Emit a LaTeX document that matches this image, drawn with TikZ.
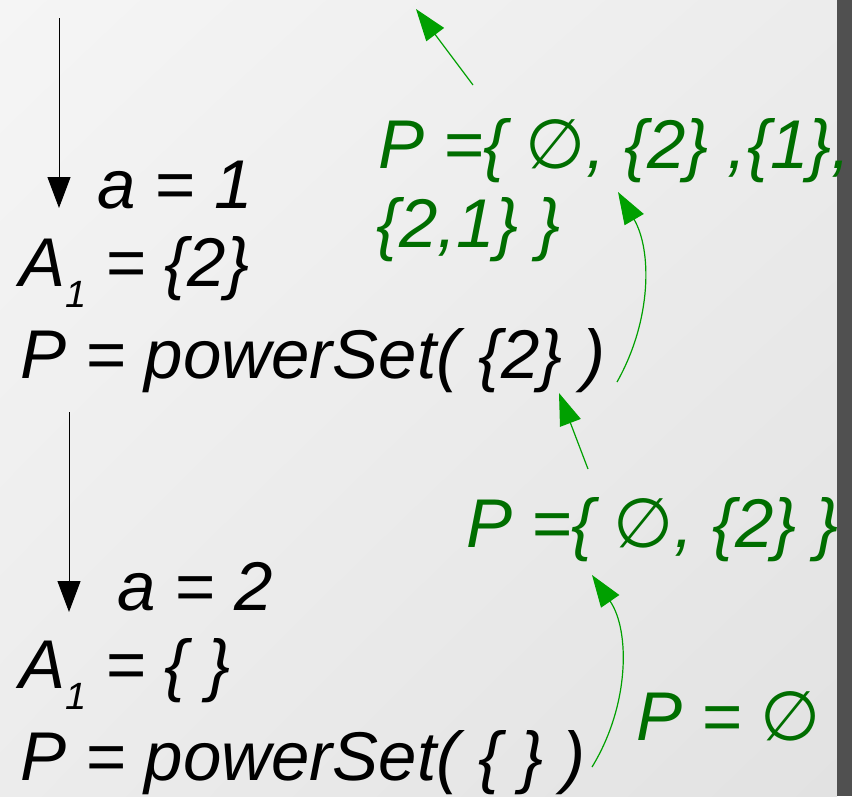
\documentclass[tikz,border=0pt]{standalone}
\usepackage{fontspec}
\setmainfont{Liberation Sans}
\newfontfamily\symfont{DejaVu Sans}
\usetikzlibrary{arrows.meta, shadings}
\definecolor{paperhi}{HTML}{F5F5F5}
\definecolor{paperlo}{HTML}{E2E2E2}
\definecolor{papermid}{HTML}{ECECEC}
\definecolor{band}{HTML}{505050}
\definecolor{setgreen}{HTML}{006E00}
\definecolor{arrgreen}{HTML}{00A000}
\newcommand\lowidx[1]{\raisebox{-21pt}{\fontsize{38}{38}\selectfont #1}}
\newcommand\noset{{\symfont\itshape ∅}}
\tikzset{
  txt/.style   = {anchor=base west, inner sep=0pt, text=black,
                  font=\fontsize{69}{79}\selectfont\itshape},
  gtxt/.style  = {txt, text=setgreen},
  down/.style  = {-{Triangle[length=31pt,width=23pt]}, line width=1pt, draw=black},
  back/.style  = {-{Triangle[length=32pt,width=22pt]}, line width=1.2pt, draw=arrgreen},
}
\begin{document}
\begin{tikzpicture}[x=1pt, y=-1pt]
  \useasboundingbox (0,0) rectangle (852,796);
  \shade[upper left=paperhi, upper right=papermid, lower left=papermid, lower right=paperlo]
    (0,0) rectangle (837,796);
  \fill[band] (837,0) rectangle (852,796);

  % recursion going down
  \node[txt] (a1) at (97,208) {a = 1};
  \node[txt] (A1) at (19,286) {A\lowidx{1} = \{2\}};
  \node[txt] (p1) at (20,378) {P = powerSet( \{2\} )};
  \node[txt] (a2) at (117,610) {a = 2};
  \node[txt] (A2) at (19,688) {A\lowidx{1} = \{ \}};
  \node[txt] (p2) at (20,780) {P = powerSet( \{ \} )};

  % results coming back
  \node[gtxt] (r3) at (636,740) {P = \noset};
  \node[gtxt] (r2) at (466,547) {P =\{ \noset, \{2\} \}};
  \node[gtxt] (r1) at (378,168) {P =\{ \noset, \{2\} ,\{1\},};
  \node[gtxt] (r1b) at (376,247) {\{2,1\} \}};

  \coordinate (in1) at (59,18);
  \coordinate (hit1) at (59,208);
  \coordinate (in2) at (69,412);
  \coordinate (hit2) at (69,612);
  \draw[down] (in1) -- (hit1);
  \draw[down] (in2) -- (hit2);

  \coordinate (ret3) at (592,767);
  \coordinate (got3) at (592,575);
  \coordinate (ret2) at (588,469);
  \coordinate (got2) at (559,393);
  \coordinate (ret1) at (617,382);
  \coordinate (got1) at (618,192);
  \coordinate (ret0) at (473,85);
  \coordinate (got0) at (416,9);
  \draw[back] (ret3) .. controls (630,705) and (630,630) .. (got3);
  \draw[back] (ret2) -- (got2);
  \draw[back] (ret1) .. controls (652,320) and (652,250) .. (got1);
  \draw[back] (ret0) -- (got0);
\end{tikzpicture}
\end{document}
